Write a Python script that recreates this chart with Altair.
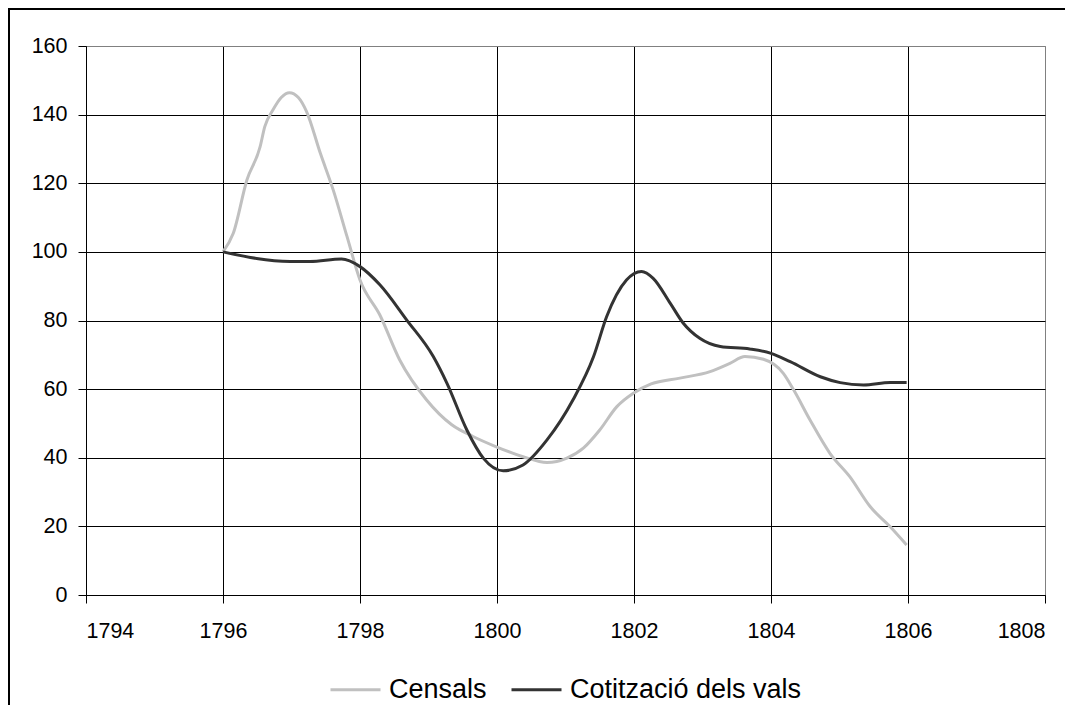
import altair as alt
import pandas as pd

# Censals (light grey)
censals_year = [1796.00, 1796.15, 1796.35, 1796.54, 1796.61, 1796.73, 1796.85, 1796.97, 1797.10,
                1797.22, 1797.42, 1797.61, 1797.81, 1798.00, 1798.29, 1798.58, 1798.97, 1799.34,
                1799.65, 1799.99, 1800.38, 1800.73, 1801.02, 1801.26, 1801.50, 1801.75, 1801.99,
                1802.25, 1802.67, 1803.11, 1803.40, 1803.62, 1803.89, 1804.18, 1804.33, 1804.57,
                1804.86, 1805.15, 1805.45, 1805.74, 1805.98]
censals_val = [100.0, 105.4, 121.0, 130.5, 136.5, 141.4, 145.0, 146.4, 145.0,
               140.9, 128.8, 118.0, 104.5, 91.8, 81.6, 68.5, 56.9, 49.6,
               46.2, 43.2, 40.3, 38.6, 39.9, 42.8, 48.1, 54.9, 58.8,
               61.5, 63.2, 65.1, 67.5, 69.5, 68.7, 64.6, 59.8, 51.0,
               41.3, 34.5, 25.7, 19.9, 14.6]

# Cotització dels vals (dark grey)
vals_year = [1796.00, 1796.98, 1797.27, 1797.73, 1798.00, 1798.29, 1798.68, 1799.07, 1799.27,
             1799.56, 1799.80, 1800.09, 1800.38, 1800.73, 1801.11, 1801.41, 1801.60, 1801.89,
             1802.11, 1802.28, 1802.53, 1802.72, 1802.96, 1803.26, 1803.69, 1803.99, 1804.28,
             1804.72, 1805.01, 1805.35, 1805.74, 1805.98]
vals_val = [100.0, 97.2, 97.2, 97.9, 95.7, 90.4, 80.2, 69.5, 61.7,
            48.1, 39.9, 36.2, 37.9, 45.2, 56.9, 69.5, 81.1, 91.8,
            94.3, 92.3, 85.0, 79.2, 74.8, 72.4, 71.7, 70.5, 68.0,
            63.6, 61.9, 61.2, 61.9, 61.9]

series_names = ["Censals", "Cotització dels vals"]
series_colors = ["#c0c0c0", "#333333"]
x_ticks = [1794, 1796, 1798, 1800, 1802, 1804, 1806, 1808]
y_ticks = [0, 20, 40, 60, 80, 100, 120, 140, 160]

df = pd.concat([
    pd.DataFrame({"any": censals_year, "valor": censals_val, "serie": series_names[0], "ord": range(len(censals_year))}),
    pd.DataFrame({"any": vals_year, "valor": vals_val, "serie": series_names[1], "ord": range(len(vals_year))}),
])

FONT = "Liberation Sans"

lines = alt.Chart(df).mark_line(strokeWidth=3, interpolate="monotone").encode(
    x=alt.X("any:Q", scale=alt.Scale(domain=[1794, 1808], nice=False),
            axis=alt.Axis(values=x_ticks, format="d", title=None, grid=True,
                          gridColor=alt.condition("datum.value == 1808", alt.value("#808080"), alt.value("black")),
                          gridWidth=1, domainColor="black", domainWidth=1,
                          tickColor="black", tickSize=8, labelPadding=17,
                          labelFontSize=21.5, labelFont=FONT, labelColor="black")),
    y=alt.Y("valor:Q", scale=alt.Scale(domain=[0, 160], nice=False),
            axis=alt.Axis(values=y_ticks, title=None, grid=True,
                          gridColor=alt.condition("datum.value == 160", alt.value("#808080"), alt.value("black")),
                          gridWidth=1, domainColor="black", domainWidth=1,
                          tickColor="black", tickSize=8, labelPadding=11,
                          labelFontSize=21.5, labelFont=FONT, labelColor="black")),
    color=alt.Color("serie:N", scale=alt.Scale(domain=series_names, range=series_colors),
                    legend=alt.Legend(title=None, orient="none", direction="horizontal",
                                      legendX=243, legendY=617,
                                      symbolType="stroke", symbolSize=2500, symbolStrokeWidth=3,
                                      labelFontSize=27, labelFont=FONT, labelColor="black",
                                      labelLimit=500,
                                      labelOffset=7, columnPadding=18)),
    order="ord:Q",
)

frame = alt.Chart(pd.DataFrame({"a": [0]})).mark_rect(filled=False, stroke="black", strokeWidth=2).encode(
    x=alt.value(-77), x2=alt.value(1200), y=alt.value(-37), y2=alt.value(900)
)

chart = alt.layer(lines, frame).properties(
    width=959, height=549,
    autosize=alt.AutoSizeParams(type="none"),
    padding={"left": 78, "top": 38, "right": 20, "bottom": 110},
).configure_view(stroke="#808080", strokeWidth=1)

chart.save("out.html", embed_options={"renderer": "svg", "actions": False})
